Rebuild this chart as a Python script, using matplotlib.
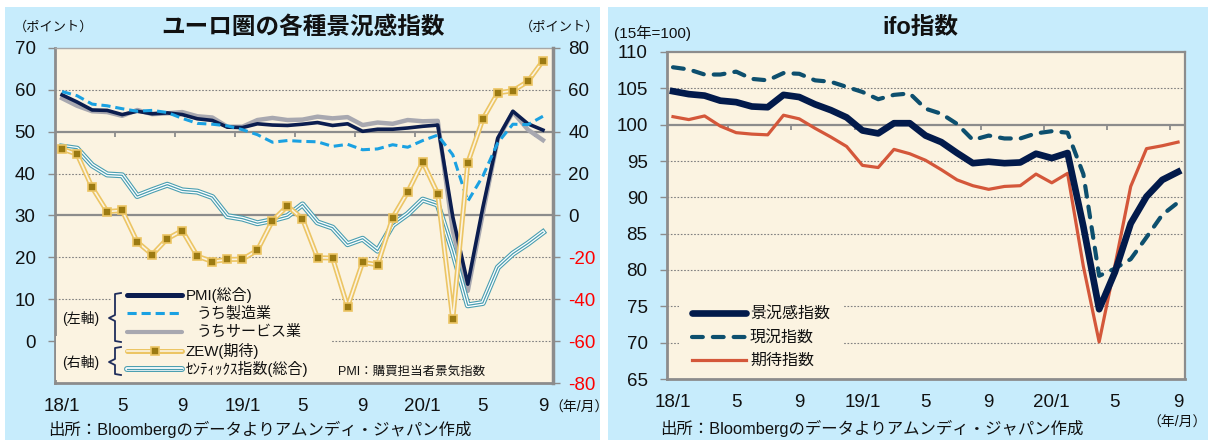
import numpy as np
import matplotlib
matplotlib.use('Agg')
import matplotlib.pyplot as plt
from matplotlib.lines import Line2D
from matplotlib.patches import Rectangle

plt.rcParams['font.family'] = ['Liberation Sans', 'Noto Sans CJK JP']

# ---- データ (2018/1 ～ 2020/9, 月次) ----
months = np.arange(33)
xtick_labels = ['18/1', '5', '9', '19/1', '5', '9', '20/1', '5', '9']

# ユーロ圏 PMI (左軸)
pmi_composite = [58.8, 57.1, 55.2, 55.1, 54.1, 54.9, 54.3, 54.5, 54.1, 53.1, 52.7, 51.1,
                 51.0, 51.9, 51.6, 51.5, 51.8, 52.2, 51.5, 51.9, 50.1, 50.6, 50.6, 50.9,
                 51.3, 51.6, 29.7, 13.6, 31.9, 48.5, 54.9, 51.9, 50.4]
pmi_manufacturing = [59.6, 58.6, 56.6, 56.2, 55.5, 54.9, 55.1, 54.6, 53.2, 52.0, 51.8, 51.4,
                     50.5, 49.3, 47.5, 47.9, 47.7, 47.6, 46.5, 47.0, 45.7, 45.9, 46.9, 46.3,
                     47.9, 49.2, 44.5, 33.4, 39.4, 47.4, 51.8, 51.7, 53.7]
pmi_services = [58.0, 56.2, 54.9, 54.7, 53.8, 55.2, 54.2, 54.4, 54.7, 53.7, 53.4, 51.2,
                51.2, 52.8, 53.3, 52.8, 52.9, 53.6, 53.2, 53.5, 51.6, 52.2, 51.9, 52.8,
                52.5, 52.6, 26.4, 12.0, 30.5, 48.3, 54.7, 50.5, 48.0]
# 右軸
zew_expect = [31.8, 29.3, 13.4, 1.9, 2.4, -12.6, -18.7, -11.1, -7.2, -19.4, -22.0, -21.0,
              -20.9, -16.6, -2.5, 4.5, -1.6, -20.2, -20.3, -43.6, -22.4, -23.5, -1.0, 11.2,
              25.6, 10.4, -49.5, 25.2, 46.0, 58.6, 59.6, 64.0, 73.9]
sentix = [32.9, 31.9, 24.0, 19.6, 19.2, 9.3, 12.1, 14.7, 12.0, 11.4, 8.8, -0.3,
          -1.5, -3.7, -2.2, -0.3, 5.3, -3.3, -5.8, -13.7, -11.1, -16.8, -4.5, 0.7,
          7.6, 5.2, -17.1, -42.9, -41.8, -24.8, -18.2, -13.4, -8.0]

# ifo (15年=100)
ifo_climate = [104.6, 104.2, 104.0, 103.3, 103.1, 102.5, 102.4, 104.1, 103.8, 102.8, 102.0, 101.0,
               99.2, 98.8, 100.2, 100.2, 98.5, 97.6, 96.1, 94.7, 94.9, 94.7, 94.8, 96.0,
               95.4, 96.1, 86.0, 74.6, 79.7, 86.4, 90.1, 92.4, 93.5]
ifo_current = [107.9, 107.6, 106.9, 106.9, 107.3, 106.3, 106.1, 107.1, 107.0, 106.1, 105.9, 105.2,
               104.5, 103.5, 104.1, 104.3, 102.2, 101.5, 100.1, 97.9, 98.5, 98.1, 98.1, 98.8,
               99.1, 98.9, 93.2, 79.2, 80.2, 81.5, 84.5, 87.6, 89.3]
ifo_expect = [101.1, 100.7, 101.2, 99.8, 98.9, 98.7, 98.6, 101.3, 100.8, 99.5, 98.3, 97.0,
              94.4, 94.1, 96.6, 96.0, 95.1, 93.8, 92.4, 91.6, 91.1, 91.5, 91.6, 93.2,
              92.0, 93.3, 80.5, 70.1, 80.6, 91.5, 96.7, 97.1, 97.6]

left_yticks = list(range(0, 71, 10))
right_yticks = list(range(-80, 81, 20))
ifo_yticks = list(range(65, 111, 5))

SOURCE = '出所：Bloombergのデータよりアムンディ・ジャパン作成'

# ---- 色 ----
BG_BLUE = '#C7ECFC'
CREAM = '#FBF3E1'
SPINE = '#8C8C8C'
GRID = '#808080'
NAVY = '#0B1D4F'
SKY = '#1AA1E2'
GRAY = '#A8A8B0'
GOLD = '#ECC564'
GOLD_DARK = '#9B7A12'
TEAL = '#4A9EB0'
IFO_NAVY = '#021A4B'
IFO_TEAL = '#0D4F6E'
IFO_RED = '#D4573A'
TEXT = '#111111'

W, H = 1208, 440
L_BOX = (55, 48, 553, 383)
R_BOX = (667, 52, 1185, 379)

fig = plt.figure(figsize=(W / 100, H / 100), dpi=100)
fig.patch.set_facecolor('white')


def fig_rect(x0, y0, x1, y1):
    # ピクセル(左上原点) -> figure 座標
    return [x0 / W, 1 - y1 / H, (x1 - x0) / W, (y1 - y0) / H]


def fig_text(x, y, s, **kw):
    kw.setdefault('color', TEXT)
    fig.text(x / W, 1 - y / H, s, **kw)


def to_ax(box, x, y):
    x0, y0, x1, y1 = box
    return (x - x0) / (x1 - x0), (y1 - y) / (y1 - y0)


def add_poly(ax, box, pts, **kw):
    xy = [to_ax(box, x, y) for x, y in pts]
    line = Line2D([p[0] for p in xy], [p[1] for p in xy], transform=ax.transAxes,
                  clip_on=False, **kw)
    ax.add_line(line)
    return line


def add_cover(ax, box, x0, y0, x1, y1, zorder=6):
    ax0, ay0 = to_ax(box, x0, y1)
    ax1, ay1 = to_ax(box, x1, y0)
    ax.add_patch(Rectangle((ax0, ay0), ax1 - ax0, ay1 - ay0, transform=ax.transAxes,
                           facecolor=CREAM, edgecolor='none', zorder=zorder))


def ax_text(ax, box, x, y, s, **kw):
    ax_x, ax_y = to_ax(box, x, y)
    kw.setdefault('color', TEXT)
    ax.text(ax_x, ax_y, s, transform=ax.transAxes, **kw)


# パネル背景
for x0, x1 in [(5, 600), (608, 1208)]:
    fig.patches.append(Rectangle((x0 / W, 0), (x1 - x0) / W, 433 / H, transform=fig.transFigure,
                                 facecolor=BG_BLUE, edgecolor='none', zorder=-5))

# ================= 左: ユーロ圏の各種景況感指数 =================
ax = fig.add_axes(fig_rect(*L_BOX))
ax.set_facecolor(CREAM)
ax.set_xlim(-0.47, 32.67)
ax.set_ylim(-10, 70)
for v in [0, 10, 20, 40, 60]:
    ax.axhline(v, color=GRID, lw=0.8, ls=(0, (1.5, 1.5)), zorder=1)
ax.axhline(30, color=SPINE, lw=1.6, zorder=1)
ax.axhline(50, color=SPINE, lw=1.6, zorder=1)
tl = 5 * 80 / (L_BOX[3] - L_BOX[1])
ax.vlines(np.arange(3.5, len(months), 4), 50 - tl, 50, color=SPINE, lw=1.3, zorder=1)

ax.plot(months, pmi_services, color=GRAY, lw=3.2, zorder=3)
ax.plot(months, pmi_composite, color=NAVY, lw=2.6, zorder=4)
ax.plot(months, pmi_manufacturing, color=SKY, lw=2.2, ls=(0, (3, 1.6)), zorder=5)

ax.set_xticks(months[::4])
ax.set_xticklabels(xtick_labels)
ax.tick_params(axis='x', length=0, pad=11, labelsize=13.5, labelcolor=TEXT)
ax.set_yticks(left_yticks)
ax.set_yticklabels([str(v) for v in left_yticks])
ax.tick_params(axis='y', length=5, width=1, color=SPINE, pad=9, labelsize=13.5, labelcolor=TEXT)
ax.spines['left'].set_color(SPINE)
ax.spines['left'].set_linewidth(2)
ax.spines['bottom'].set_color(SPINE)
ax.spines['bottom'].set_linewidth(2)
ax.spines['top'].set_color('#A8A8A8')
ax.spines['top'].set_linewidth(1)
ax.spines['right'].set_visible(False)

ax2 = ax.twinx()
ax2.set_ylim(-80, 80)
ax2.plot(months, sentix, color=TEAL, lw=4.3, zorder=2)
ax2.plot(months, sentix, color='white', lw=2.7, zorder=2)
ax2.plot(months, sentix, color=TEAL, lw=0.9, zorder=2)
ax2.plot(months, zew_expect, color=GOLD, lw=3.6, zorder=3)
ax2.plot(months, zew_expect, color=CREAM, lw=1.2, zorder=3)
ax2.plot(months, zew_expect, ls='none', marker='s', ms=5.2, mfc=GOLD_DARK, mec=GOLD, mew=1.2, zorder=4)
ax2.set_yticks(right_yticks)
ax2.set_yticklabels([str(v) for v in right_yticks])
ax2.tick_params(axis='y', length=5, width=1, color=SPINE, pad=6, labelsize=13.5)
for lab, v in zip(ax2.get_yticklabels(), right_yticks):
    lab.set_color('#FF0000' if v < 0 else TEXT)
for side in ['left', 'top', 'bottom']:
    ax2.spines[side].set_visible(False)
ax2.spines['right'].set_color(SPINE)
ax2.spines['right'].set_linewidth(2.5)

# 凡例 (手描き)
add_cover(ax2, L_BOX, 111, 284, 331, 380)
add_cover(ax2, L_BOX, 56, 336, 112, 380)
rows = [295, 313, 332, 351, 369]
hx0, hx1 = 127, 182
add_poly(ax2, L_BOX, [(hx0, rows[0]), (hx1, rows[0])], color=NAVY, lw=3.6, solid_capstyle='round', zorder=7)
add_poly(ax2, L_BOX, [(hx0, rows[1]), (hx1, rows[1])], color=SKY, lw=2.2, ls=(0, (3, 1.6)), zorder=7)
add_poly(ax2, L_BOX, [(hx0, rows[2]), (hx1, rows[2])], color=GRAY, lw=3.0, solid_capstyle='round', zorder=7)
add_poly(ax2, L_BOX, [(hx0, rows[3]), (hx1, rows[3])], color=GOLD, lw=3.6, solid_capstyle='round', zorder=7)
add_poly(ax2, L_BOX, [(hx0, rows[3]), (hx1, rows[3])], color=CREAM, lw=1.2, zorder=7)
add_poly(ax2, L_BOX, [((hx0 + hx1) / 2, rows[3])], ls='none', marker='s', ms=5.2, mfc=GOLD_DARK,
         mec=GOLD, mew=1.2, zorder=8)
add_poly(ax2, L_BOX, [(hx0, rows[4]), (hx1, rows[4])], color=TEAL, lw=4.3, solid_capstyle='round', zorder=7)
add_poly(ax2, L_BOX, [(hx0, rows[4]), (hx1, rows[4])], color='white', lw=2.7, solid_capstyle='round', zorder=7)
add_poly(ax2, L_BOX, [(hx0, rows[4]), (hx1, rows[4])], color=TEAL, lw=0.9, zorder=7)

labels_left = [(186, 'PMI(総合)'), (197, 'うち製造業'), (197, 'うちサービス業'),
               (186, 'ZEW(期待)'), (186, 'ｾﾝﾃｨｯｸｽ指数(総合)')]
for (lx, s), ry in zip(labels_left, rows):
    ax_text(ax2, L_BOX, lx, ry, s, ha='left', va='center', fontsize=10.8, zorder=8)

BR = '#1F2D5C'
add_poly(ax2, L_BOX, [(121, 293), (115, 294), (115, 315), (109, 318), (115, 321), (115, 341), (121, 342)],
         color=BR, lw=1.3, zorder=8)
add_poly(ax2, L_BOX, [(121, 347), (115, 348), (115, 359), (109, 362), (115, 365), (115, 374), (121, 375)],
         color=BR, lw=1.3, zorder=8)
ax_text(ax2, L_BOX, 81, 318, '(左軸)', ha='center', va='center', fontsize=10, zorder=8)
ax_text(ax2, L_BOX, 81, 362, '(右軸)', ha='center', va='center', fontsize=10, zorder=8)
ax_text(ax2, L_BOX, 338, 372, 'PMI：購買担当者景気指数', ha='left', va='center', fontsize=9, zorder=8)

fig_text(303, 27, 'ユーロ圏の各種景況感指数', ha='center', va='center', fontsize=17, fontweight='bold')
fig_text(14, 27, '（ポイント）', ha='left', va='center', fontsize=9.5)
fig_text(599, 27, '（ポイント）', ha='right', va='center', fontsize=9.5)
fig_text(549, 408, '（年/月）', ha='left', va='center', fontsize=10)
fig_text(48, 429, SOURCE, ha='left', va='center', fontsize=11.8)

# ================= 右: ifo指数 =================
bx = fig.add_axes(fig_rect(*R_BOX))
bx.set_facecolor(CREAM)
bx.set_xlim(-0.38, 32.44)
bx.set_ylim(65, 110)
for v in [70, 75, 80, 85, 90, 95, 105]:
    bx.axhline(v, color=GRID, lw=0.8, ls=(0, (1.5, 1.5)), zorder=1)
bx.axhline(100, color=SPINE, lw=1.6, zorder=1)
tl = 5 * 45 / (R_BOX[3] - R_BOX[1])
bx.vlines(np.arange(3.5, len(months), 4), 100 - tl, 100, color=SPINE, lw=1.3, zorder=1)

bx.plot(months, ifo_expect, color=IFO_RED, lw=2.3, zorder=3)
bx.plot(months, ifo_current, color=IFO_TEAL, lw=3.0, ls=(0, (2.6, 2.4)), dash_capstyle='round', zorder=3)
bx.plot(months, ifo_climate, color=IFO_NAVY, lw=4.8, solid_joinstyle='round', zorder=4)

bx.set_xticks(months[::4])
bx.set_xticklabels(xtick_labels)
bx.tick_params(axis='x', length=0, pad=11, labelsize=13.5, labelcolor=TEXT)
bx.set_yticks(ifo_yticks)
bx.set_yticklabels([str(v) for v in ifo_yticks])
bx.tick_params(axis='y', length=5, width=1, color=SPINE, pad=9, labelsize=13.5, labelcolor=TEXT)
for side in ['left', 'bottom']:
    bx.spines[side].set_color(SPINE)
    bx.spines[side].set_linewidth(2)
for side in ['top', 'right']:
    bx.spines[side].set_color(SPINE)
    bx.spines[side].set_linewidth(1.6)

add_cover(bx, R_BOX, 679, 298, 843, 377)
rrows = [313, 337, 360]
rx0, rx1 = 692, 746
add_poly(bx, R_BOX, [(rx0, rrows[0]), (rx1, rrows[0])], color=IFO_NAVY, lw=4.8, solid_capstyle='round', zorder=7)
add_poly(bx, R_BOX, [(rx0, rrows[1]), (rx1, rrows[1])], color=IFO_TEAL, lw=3.0, ls=(0, (2.6, 2.4)),
         dash_capstyle='round', zorder=7)
add_poly(bx, R_BOX, [(rx0, rrows[2]), (rx1, rrows[2])], color=IFO_RED, lw=2.3, zorder=7)
for s, ry in zip(['景況感指数', '現況指数', '期待指数'], rrows):
    ax_text(bx, R_BOX, 750, ry, s, ha='left', va='center', fontsize=11.5, zorder=8)

fig_text(920, 28, 'ifo指数', ha='center', va='center', fontsize=17, fontweight='bold')
fig_text(614, 33, '(15年=100)', ha='left', va='center', fontsize=11)
fig_text(1177, 423, '（年/月）', ha='center', va='center', fontsize=10)
fig_text(660, 428, SOURCE, ha='left', va='center', fontsize=11.8)

fig.savefig('out.png', dpi=100)
